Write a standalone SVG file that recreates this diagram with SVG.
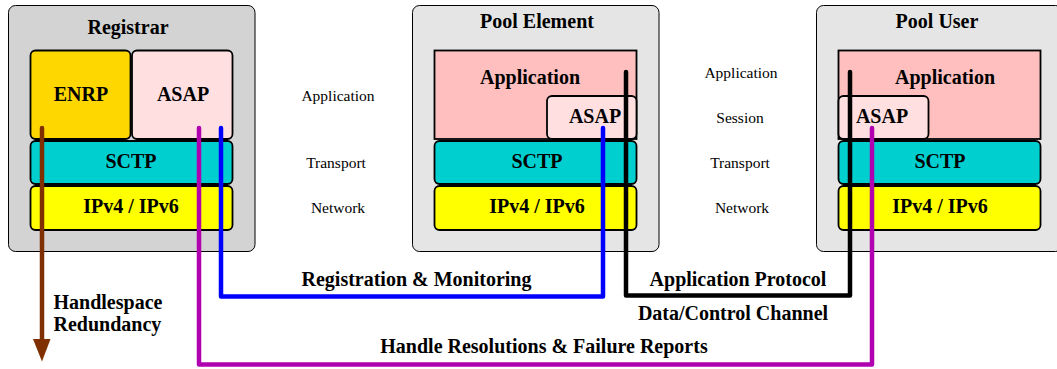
<svg xmlns="http://www.w3.org/2000/svg" width="1057" height="369" viewBox="0 0 1057 369">
<style>
.outer{stroke:#000;stroke-width:1;}
.box{stroke:#000;stroke-width:1.8;}
text{font-family:'Liberation Serif','DejaVu Serif',serif;fill:#000;}
.t{font-weight:bold;font-size:20px;text-anchor:middle;}
.s{text-anchor:start;}
.l{font-size:15.5px;text-anchor:middle;}
.c{fill:none;stroke-width:4.5;stroke-linecap:round;stroke-linejoin:round;}
</style>
<rect width="1057" height="369" fill="#fff"/>
<g id="registrar" font-family="Liberation Serif, DejaVu Serif, serif">
<rect class="outer" x="8.5" y="5.5" width="246.5" height="246" rx="7" fill="#d3d3d3"/>
<text class="t" x="128" y="33.5">Registrar</text>
<rect class="box" x="30.5" y="50.5" width="100" height="88.5" rx="5" fill="#ffd700"/>
<text class="t" x="81" y="101">ENRP</text>
<rect class="box" x="132" y="50.5" width="100.5" height="88.5" rx="5" fill="#ffdfe0"/>
<text class="t" x="183" y="101">ASAP</text>
<rect class="box" x="30.5" y="141" width="202" height="43" rx="5" fill="#00cfd0"/>
<text class="t" x="131" y="168">SCTP</text>
<rect class="box" x="30.5" y="186" width="202" height="44" rx="5" fill="#ffff00"/>
<text class="t" x="131" y="213">IPv4 / IPv6</text>
</g>
<g id="pool-element" font-family="Liberation Serif, DejaVu Serif, serif">
<rect class="outer" x="412.5" y="5.5" width="246.5" height="246" rx="7" fill="#e5e5e5"/>
<text class="t" x="537" y="28">Pool Element</text>
<rect class="box" x="434.5" y="50.5" width="202" height="88.5" fill="#ffbfbf"/>
<text class="t" x="530" y="84">Application</text>
<rect class="box" x="547" y="96" width="89.5" height="43" rx="5" fill="#ffdfe0"/>
<text class="t" x="595" y="123">ASAP</text>
<rect class="box" x="434.5" y="141" width="202" height="43" rx="5" fill="#00cfd0"/>
<text class="t" x="537" y="168">SCTP</text>
<rect class="box" x="434.5" y="186" width="202" height="44" rx="5" fill="#ffff00"/>
<text class="t" x="537" y="213">IPv4 / IPv6</text>
</g>
<g id="pool-user" font-family="Liberation Serif, DejaVu Serif, serif">
<rect class="outer" x="816.5" y="5.5" width="246" height="246" rx="7" fill="#e5e5e5"/>
<text class="t" x="937" y="28">Pool User</text>
<rect class="box" x="838.5" y="50.5" width="202" height="88.5" fill="#ffbfbf"/>
<text class="t" x="945" y="84">Application</text>
<rect class="box" x="838.5" y="96" width="90" height="43" rx="5" fill="#ffdfe0"/>
<text class="t" x="882" y="123">ASAP</text>
<rect class="box" x="838.5" y="141" width="202" height="43" rx="5" fill="#00cfd0"/>
<text class="t" x="940" y="168">SCTP</text>
<rect class="box" x="838.5" y="186" width="202" height="44" rx="5" fill="#ffff00"/>
<text class="t" x="940" y="213">IPv4 / IPv6</text>
</g>
<g id="layer-labels" font-family="Liberation Serif, DejaVu Serif, serif">
<text class="l" x="338" y="101">Application</text>
<text class="l" x="336" y="168">Transport</text>
<text class="l" x="338" y="213">Network</text>
<text class="l" x="741" y="78">Application</text>
<text class="l" x="740" y="123">Session</text>
<text class="l" x="740" y="168">Transport</text>
<text class="l" x="742" y="213">Network</text>
</g>
<g id="connectors" font-family="Liberation Serif, DejaVu Serif, serif">
<path class="c" stroke="#0000ff" d="M221,128 V296.5 H603 V128"/>
<path class="c" stroke="#b000b0" d="M199,128 V364.5 H872 V128"/>
<path class="c" stroke="#000" d="M626,72 V295.5 H850 V72"/>
<path class="c" stroke="#803000" stroke-linecap="butt" d="M42,128 V342"/>
<polygon points="33,339 50.5,339 42,361.5" fill="#803000"/>
<text class="t" x="416.5" y="286">Registration &amp; Monitoring</text>
<text class="t" x="738" y="285.7">Application Protocol</text>
<text class="t" x="733" y="320">Data/Control Channel</text>
<text class="t" x="544" y="353.3">Handle Resolutions &amp; Failure Reports</text>
<text class="t s" x="53.5" y="308.5">Handlespace</text>
<text class="t s" x="53.5" y="330.7">Redundancy</text>
</g>
</svg>
